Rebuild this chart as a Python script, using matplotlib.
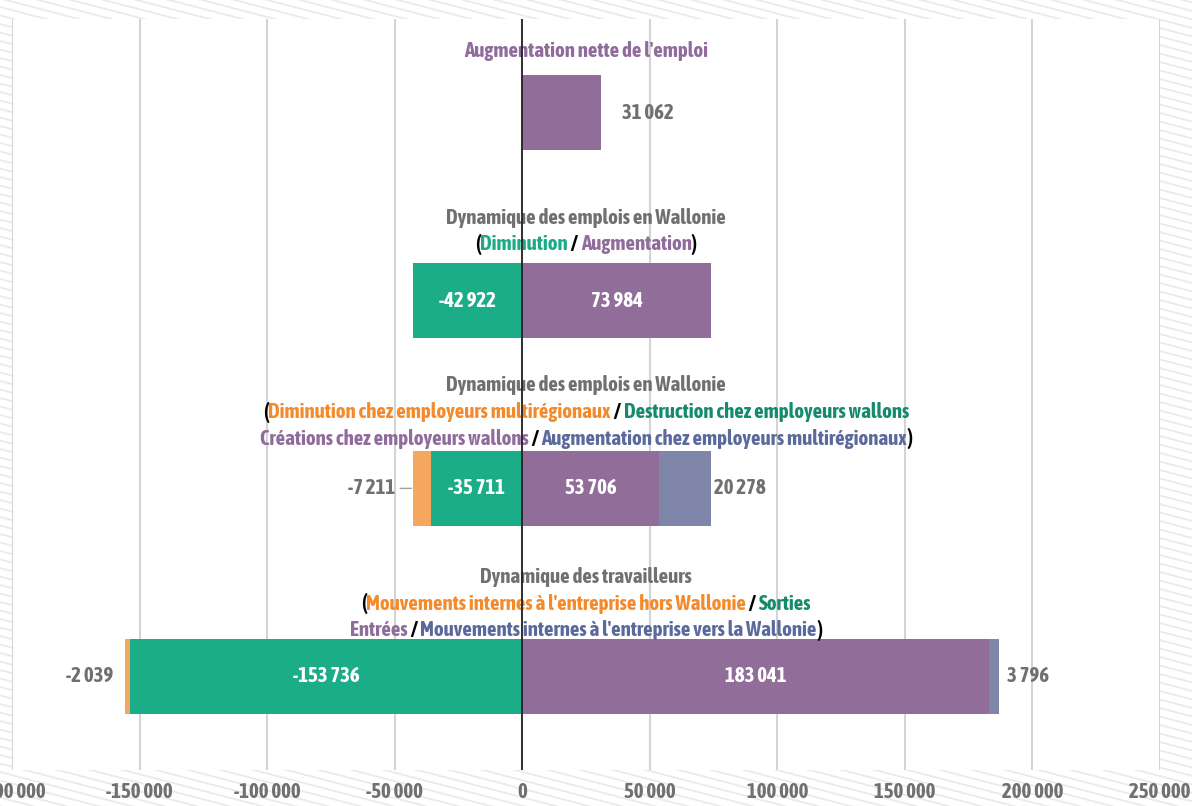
import numpy as np
import matplotlib
matplotlib.use("Agg")
import matplotlib.pyplot as plt
from matplotlib import transforms, font_manager

# pick a condensed face installed, as close to bold as possible
def _w(f):
    w = f.weight
    return font_manager.weight_dict.get(w, 400) if isinstance(w, str) else int(w)

cond = [f for f in font_manager.fontManager.ttflist
        if ("Condensed" in f.name or "Narrow" in f.name) and f.style == "normal"]
if cond:
    best = min(cond, key=lambda f: (abs(_w(f) - 700), -_w(f)))
    FAMILY, WEIGHT = best.name, _w(best)
else:
    FAMILY, WEIGHT = "Roboto", 700
plt.rcParams['font.family'] = [FAMILY, 'DejaVu Sans']
plt.rcParams['font.weight'] = WEIGHT

# data (rows from top to bottom)
rows = ["net", "dyn_emplois", "dyn_emplois_detail", "dyn_travailleurs"]
orange_vals = [0, 0, -7211, -2039]
green_vals = [0, -42922, -35711, -153736]
purple_vals = [31062, 73984, 53706, 183041]
blue_vals = [0, 0, 20278, 3796]
xticks = [-200000, -150000, -100000, -50000, 0, 50000, 100000, 150000, 200000, 250000]

C_PURPLE = "#916E99"
C_GREEN = "#1BAC88"
C_ORANGE = "#F6A75F"
C_BLUE = "#7F86A9"
T_GRAY = "#707070"
T_ORANGE = "#F58A2B"
T_GREEN = "#148C6B"
T_GREEN2 = "#1BAB87"
T_PURPLE = "#8F6C9B"
T_BLUE = "#5A6A9C"

headers = [
    [(-0.33, [("Augmentation nette de l'emploi", T_PURPLE)])],
    [(-0.44, [("Dynamique des emplois en Wallonie", T_GRAY)]),
     (-0.30, [("(", "black"), ("Diminution", T_GREEN2), (" / ", "black"),
              ("Augmentation", T_PURPLE), (")", "black")])],
    [(-0.55, [("Dynamique des emplois en Wallonie", T_GRAY)]),
     (-0.405, [("(", "black"), ("Diminution chez employeurs multirégionaux", T_ORANGE),
               (" / ", "black"), ("Destruction chez employeurs wallons", T_GREEN)]),
     (-0.265, [("Créations chez employeurs wallons", T_PURPLE), (" / ", "black"),
               ("Augmentation chez employeurs multirégionaux", T_BLUE), (")", "black")])],
    [(-0.53, [("Dynamique des travailleurs", T_GRAY)]),
     (-0.385, [("(", "black"), ("Mouvements internes à l'entreprise hors Wallonie", T_ORANGE),
               (" / ", "black"), ("Sorties", T_GREEN)]),
     (-0.245, [("Entrées", T_PURPLE), (" / ", "black"),
               ("Mouvements internes à l'entreprise vers la Wallonie", T_BLUE), (")", "black")])],
]

FS = 15 if cond else 11.5

W, H = 1192, 806
fig = plt.figure(figsize=(W / 100, H / 100), dpi=100)
fig.patch.set_facecolor("white")

# hatched background
bg = fig.add_axes([0, 0, 1, 1], zorder=-10)
bg.set_xlim(0, W)
bg.set_ylim(H, 0)
bg.axis("off")
xs = np.array([0, W])
for y0 in np.arange(-350, H + 10, 8.5):
    bg.plot(xs, y0 + 0.26 * xs, color="#EAEAEA", lw=1.3, solid_capstyle="butt")

ax = fig.add_axes([12 / W, 36 / H, (1160 - 12) / W, (770 - 19) / H])
ax.set_facecolor("white")
y = np.arange(len(rows))
h = 0.4

ax.barh(y, green_vals, height=h, color=C_GREEN, zorder=2)
ax.barh(y, orange_vals, left=green_vals, height=h, color=C_ORANGE, zorder=2)
ax.barh(y, purple_vals, height=h, color=C_PURPLE, zorder=2)
ax.barh(y, blue_vals, left=purple_vals, height=h, color=C_BLUE, zorder=2)

ax.set_xlim(-200000, 250000)
ax.set_ylim(3.5, -0.5)
ax.set_xticks(xticks)
ax.set_xticklabels([f"{v:,}".replace(",", " ") for v in xticks])
ax.tick_params(axis="x", length=0, pad=9, labelsize=FS, labelcolor=T_GRAY)
ax.set_yticks([])
for s in ax.spines.values():
    s.set_visible(False)
ax.xaxis.grid(True, color="#D4D4D4", lw=1.5, zorder=0)
ax.set_axisbelow(True)
ax.axvline(0, color="#222222", lw=1.3, zorder=5)


def fmt(v):
    return f"{v:,}".replace(",", " ")


lab = dict(fontsize=FS, fontweight=WEIGHT, va="center")
for i in range(1, 4):
    ax.text(green_vals[i] / 2, i, fmt(green_vals[i]), color="white", ha="center", zorder=4, **lab)
    ax.text(purple_vals[i] / 2, i, fmt(purple_vals[i]), color="white", ha="center", zorder=4, **lab)
ax.annotate(fmt(purple_vals[0]), (purple_vals[0], 0), xytext=(15, 0), textcoords="offset points",
            color=T_GRAY, ha="left", **lab)
ax.annotate(fmt(blue_vals[2]), (purple_vals[2] + blue_vals[2], 2), xytext=(2, 0),
            textcoords="offset points", color=T_GRAY, ha="left", **lab)
ax.annotate(fmt(blue_vals[3]), (purple_vals[3] + blue_vals[3], 3), xytext=(6, 0),
            textcoords="offset points", color=T_GRAY, ha="left", **lab)
ax.annotate(fmt(orange_vals[3]), (green_vals[3] + orange_vals[3], 3), xytext=(-8, 0),
            textcoords="offset points", color=T_GRAY, ha="right", **lab)
ax.annotate(fmt(orange_vals[2]), (green_vals[2] + orange_vals[2], 2), xytext=(-13, 0),
            textcoords="offset points", color=T_GRAY, ha="right",
            arrowprops=dict(arrowstyle="-", color="#A0A0A0", lw=1, shrinkA=2, shrinkB=1), **lab)

# multi-coloured header lines, centred on the axes
blend = transforms.blended_transform_factory(ax.transAxes, ax.transData)
fig.canvas.draw()
renderer = fig.canvas.get_renderer()
for i, lines in enumerate(headers):
    for dy, parts in lines:
        texts = [ax.text(0.5, i + dy, t, color=c, fontsize=FS, fontweight=WEIGHT,
                         ha="left", va="center", transform=blend, zorder=3) for t, c in parts]
        widths = [t.get_window_extent(renderer).width for t in texts]
        total = sum(widths)
        x = -total / 2
        for t, w in zip(texts, widths):
            t.set_transform(blend + transforms.ScaledTranslation(x / fig.dpi, 0, fig.dpi_scale_trans))
            x += w

fig.savefig("out.png", dpi=100, facecolor="white")
